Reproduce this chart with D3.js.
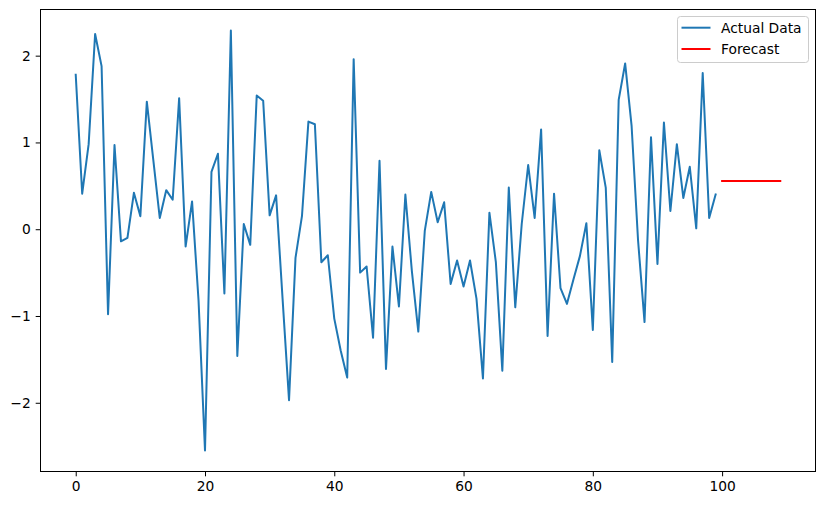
<!DOCTYPE html>
<html><head><meta charset="utf-8">
<script src="https://cdn.jsdelivr.net/npm/d3@7"></script>
<style>body{margin:0;background:#fff}svg{display:block}text{font-family:"DejaVu Sans",sans-serif}</style>
</head><body><svg id="c" width="825" height="505"></svg>
<script>
const actual = [1.78,0.41,0.98,2.25,1.88,-0.98,0.97,-0.14,-0.10,0.42,
0.15,1.47,0.80,0.13,0.45,0.34,1.51,-0.20,0.32,-0.82,
-2.55,0.66,0.87,-0.74,2.29,-1.46,0.06,-0.18,1.54,1.48,
0.16,0.39,-0.80,-1.97,-0.33,0.15,1.24,1.21,-0.38,-0.30,
-1.03,-1.40,-1.71,1.96,-0.50,-0.43,-1.25,0.79,-1.61,-0.20,
-0.89,0.40,-0.48,-1.18,-0.02,0.43,0.08,0.31,-0.63,-0.36,
-0.66,-0.36,-0.80,-1.72,0.19,-0.38,-1.63,0.48,-0.90,0.06,
0.74,0.13,1.15,-1.23,0.41,-0.68,-0.86,-0.58,-0.31,0.07,
-1.16,0.91,0.48,-1.53,1.49,1.91,1.19,-0.13,-1.07,1.06,
-0.40,1.23,0.21,0.98,0.36,0.72,0.01,1.80,0.13,0.40];
const forecast = [0.555,0.555,0.555,0.555,0.555,0.555,0.555,0.555,0.555,0.555];
const xTicks = [0,20,40,60,80,100];
const yTicks = [-2,-1,0,1,2];
const seriesNames = ["Actual Data","Forecast"];
const colors = ["#1f77b4","#ff0000"];

const W=825,H=505, L=40.5, R=815.5, T=9.5, B=471.5;
const FS="13.8px";
const svg=d3.select("#c");
const xMin=0, xMax=actual.length+forecast.length-1;
const xPad=(xMax-xMin)*0.05;
const all=actual.concat(forecast);
const yMin=d3.min(all), yMax=d3.max(all), yPad=(yMax-yMin)*0.05;
const x=d3.scaleLinear().domain([xMin-xPad,xMax+xPad]).range([L,R]);
const y=d3.scaleLinear().domain([yMin-yPad,yMax+yPad]).range([B,T]);

const line=d3.line().x(d=>x(d[0])).y(d=>y(d[1]));
svg.append("path").datum(actual.map((v,i)=>[i,v])).attr("d",line)
  .attr("fill","none").attr("stroke",colors[0]).attr("stroke-width",2).attr("stroke-linejoin","round").attr("stroke-linecap","square");
svg.append("path").datum(forecast.map((v,i)=>[actual.length+i,v])).attr("d",line)
  .attr("fill","none").attr("stroke",colors[1]).attr("stroke-width",2).attr("stroke-linecap","square");

const fmt=d=>d<0?"\u2212"+Math.abs(d):String(d);
const gx=svg.append("g").attr("transform",`translate(0,${B})`)
  .call(d3.axisBottom(x).tickValues(xTicks).tickSize(4.8).tickPadding(4.5).tickFormat(fmt));
const gy=svg.append("g").attr("transform",`translate(${L},0)`)
  .call(d3.axisLeft(y).tickValues(yTicks).tickSize(4.8).tickPadding(5).tickFormat(fmt));
[gx,gy].forEach(g=>{g.select(".domain").remove();
  g.selectAll("line").attr("stroke","#000").attr("stroke-width",1);
  g.selectAll("text").attr("font-size",FS).attr("fill","#000").style("font-family","DejaVu Sans");});
svg.append("rect").attr("x",L).attr("y",T).attr("width",R-L).attr("height",B-T)
  .attr("fill","none").attr("stroke","#000").attr("stroke-width",1);

// legend
const lg=svg.append("g");
lg.append("rect").attr("x",677.5).attr("y",16.5).attr("width",131).attr("height",46).attr("rx",3)
  .attr("fill","#fff").attr("fill-opacity",0.8).attr("stroke","#ccc").attr("stroke-width",1);
seriesNames.forEach((n,i)=>{
  const yy=27.7+i*21.3;
  lg.append("line").attr("x1",681.5).attr("x2",710.5).attr("y1",yy).attr("y2",yy)
    .attr("stroke",colors[i]).attr("stroke-width",2);
  lg.append("text").attr("x",721).attr("y",yy+5).attr("font-size",FS).attr("fill","#000").text(n);
});
</script></body></html>
